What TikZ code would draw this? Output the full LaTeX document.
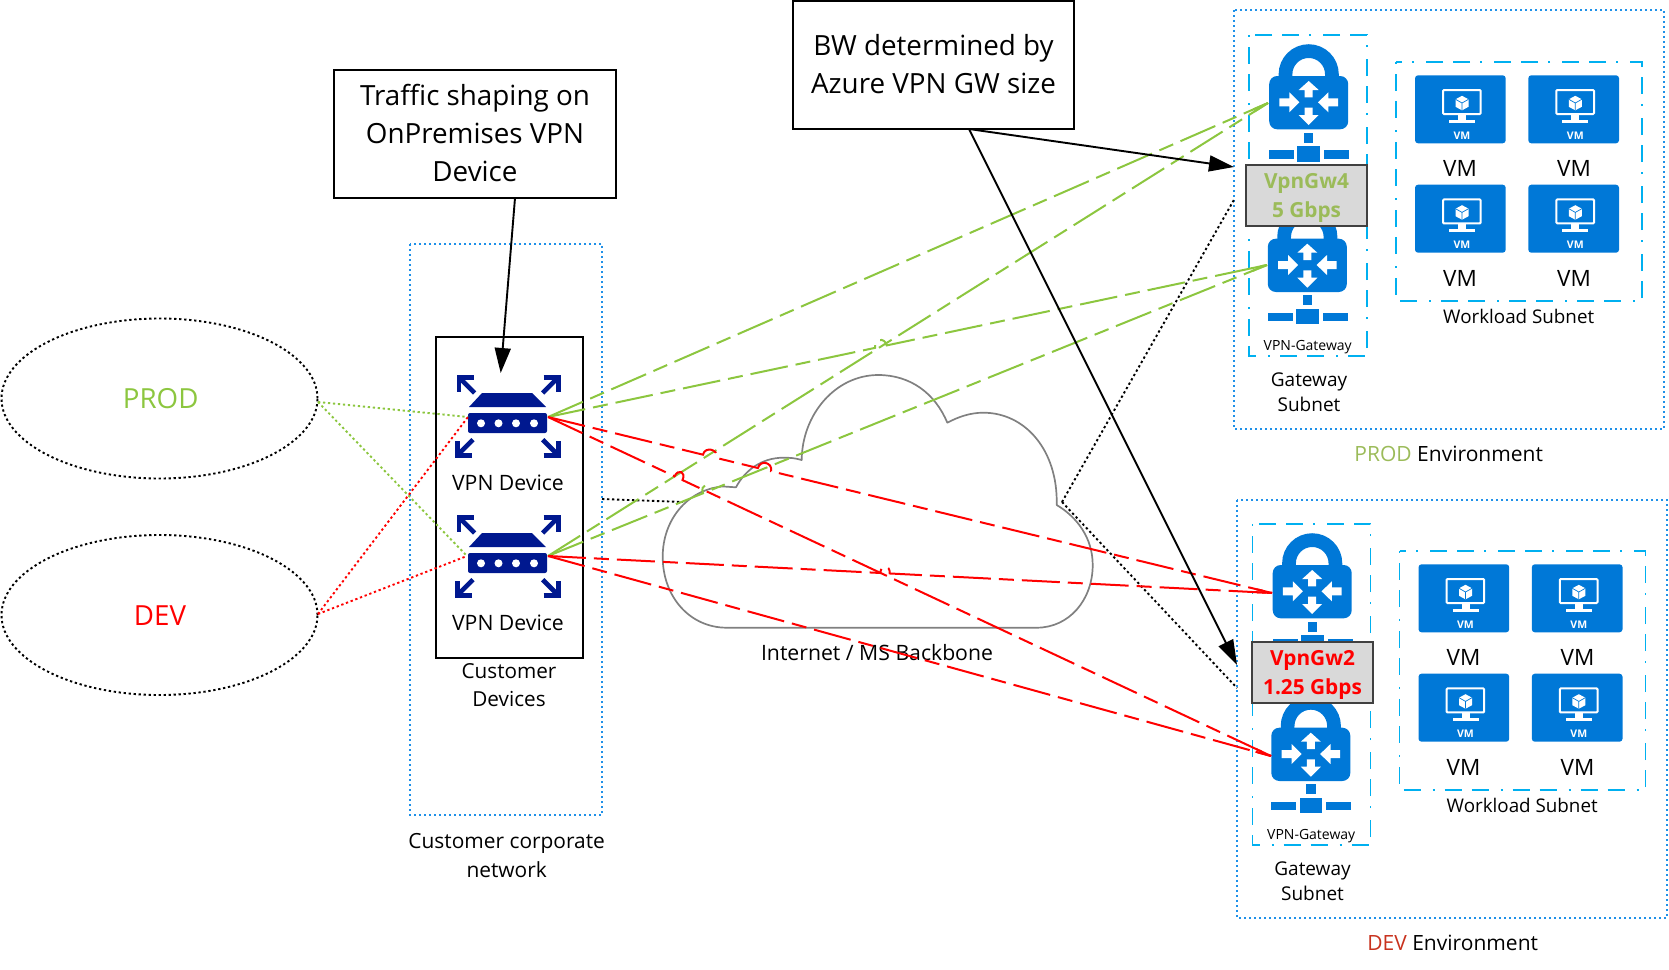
\documentclass[tikz,border=0pt]{standalone}
\usepackage{fontspec}
\setmainfont{Open Sans}
\usetikzlibrary{calc,arrows.meta,shapes.geometric}
\definecolor{gbl}{HTML}{0078D7}
\definecolor{nvy}{HTML}{00188F}
\definecolor{grn}{HTML}{8CC63F}
\definecolor{olv}{HTML}{9BBB59}
\definecolor{dbl}{HTML}{1E90E8}
\definecolor{cya}{HTML}{00B0F0}
\definecolor{drd}{HTML}{C8321E}
\tikzset{
  fs/.style={font=\fontsize{#1}{#1}\selectfont,inner sep=0pt},
  callout/.style={draw=black,line width=1.6pt,fill=white,inner sep=0pt,align=center,font=\fontsize{27.8}{38.2}\selectfont},
  lbl/.style={inner sep=0pt,align=center,font=\fontsize{21.2}{25}\selectfont},
  envbox/.style={draw=dbl,line width=1.8pt,dash pattern=on 2pt off 3pt},
  subbox/.style={draw=cya,line width=1.8pt,dash pattern=on 2pt off 10pt on 17pt off 10pt on 17pt off 12pt},
  vpnlink/.style={line width=2pt,dash pattern=on 38pt off 8pt on 15pt off 8pt},
  dotlink/.style={line width=1.9pt,dash pattern=on 2.3pt off 2.7pt},
  bigarrow/.style={line width=1.9pt,-{Triangle[length=25pt,width=16pt]}},
  sizebox/.style={draw=black!75,line width=1.4pt,fill=black!15,inner sep=0pt,align=center,font=\bfseries\fontsize{20.8}{29.5}\selectfont},
}
\newcommand{\hop}[4]{ -- ($(#1)!#3!(#2)$) .. controls ($(#1)!#3!(#2)!9pt!90:(#2)$) and ($(#1)!#4!(#2)!9pt!90:(#2)$) .. ($(#1)!#4!(#2)$) }
% lock icon around centre
\newcommand{\lockicon}[2]{%
\begin{scope}[shift={(#1,#2)}]
  \draw[gbl,line width=13.7pt] (-23.2,-20) -- (-23.2,-28) .. controls (-23.2,-40.8) and (-12.8,-51.2) .. (0,-51.2) .. controls (12.8,-51.2) and (23.2,-40.8) .. (23.2,-28) -- (23.2,-20);
  \fill[gbl,rounded corners=8pt] (-39.5,-26.3) rectangle (39.5,27);
  \fill[white] (0,-21.3) -- (10,-12.3) -- (4,-12.3) -- (4,-5) -- (-4,-5) -- (-4,-12.3) -- (-10,-12.3) -- cycle;
  \fill[white] (0,22.7) -- (10,12.7) -- (4,12.7) -- (4,5.3) -- (-4,5.3) -- (-4,12.7) -- (-10,12.7) -- cycle;
  \fill[white] (-9.3,0) -- (-19.3,-10) -- (-19.3,-4) -- (-29.3,-4) -- (-29.3,4) -- (-19.3,4) -- (-19.3,10) -- cycle;
  \fill[white] (9.3,0) -- (19.7,-10) -- (19.7,-4) -- (29.3,-4) -- (29.3,4) -- (19.7,4) -- (19.7,10) -- cycle;
  \fill[gbl] (-4.7,30.3) rectangle (4.7,40.3);
  \fill[gbl] (-11.3,43.7) rectangle (11.3,59.3);
  \fill[gbl] (-39.7,47.7) rectangle (-14.7,56.3);
  \fill[gbl] (15.3,47.7) rectangle (40.3,56.3);
\end{scope}}
% VM tile from top-left corner
\newcommand{\vmtile}[3]{%
\begin{scope}[shift={(#1,#2)}]
  \fill[gbl,rounded corners=3pt] (0,0) rectangle (90.7,68);
  \draw[white,line width=2pt,rounded corners=1pt] (28,14.7) rectangle (65.7,38.7);
  \fill[white] (43,39.7) rectangle (51,45);
  \fill[white] (34,44.7) rectangle (60,47.3);
  \fill[white] (47,20.5) -- (53.5,24) -- (53.5,31.5) -- (47,35) -- (40.5,31.5) -- (40.5,24) -- cycle;
  \draw[gbl,line width=.7pt] (40.5,24) -- (47,27.7) -- (53.5,24) (47,27.7) -- (47,35);
  \node[fs=10.5,text=white] (#3) at (47,60.2) {\bfseries VM};
\end{scope}}
% one environment, offset
\newcommand{\envicons}[3]{%
\begin{scope}[shift={(#1,#2)}]
  \draw[subbox] (1249,35) rectangle (1367,356);
  \draw[subbox] (1396,62) rectangle (1642,301);
  \lockicon{1308.7}{102.3}
  \lockicon{1307.3}{265}
  \vmtile{1415}{75.3}{#3a}
  \vmtile{1528.3}{75.3}{#3b}
  \vmtile{1415}{184.7}{#3c}
  \vmtile{1528.3}{184.7}{#3d}
  \node[fs=22.5] (#3vma) at (1460,168) {VM};
  \node[fs=22.5] (#3vmb) at (1574,168) {VM};
  \node[fs=22.5] (#3vmc) at (1460,278) {VM};
  \node[fs=22.5] (#3vmd) at (1574,278) {VM};
  \node[fs=14] (#3gwn) at (1307.7,346.7) {VPN-Gateway};
  \node[lbl,font=\fontsize{19}{25}\selectfont] (#3gws) at (1309,392) {Gateway\\Subnet};
  \node[fs=18.8] (#3wls) at (1518.7,316.7) {Workload Subnet};
\end{scope}}
% device icon
\newcommand{\cornerarrow}[4]{%
\begin{scope}[shift={(#1,#2)},xscale=#3,yscale=#4]
  \draw[nvy,line width=4.6pt,miter limit=10] (17,2.3) -- (2.3,2.3) -- (2.3,17);
  \draw[nvy,line width=4.6pt] (3,3) -- (18,18);
\end{scope}}
\newcommand{\deviceicon}[1]{%
\begin{scope}[shift={(0,#1)}]
  \fill[nvy] (482,393) -- (532,393) -- (546,407) -- (469,407) -- cycle;
  \fill[nvy,rounded corners=2pt] (468,413) rectangle (547,433);
  \foreach \px in {481,498.5,516,534} \fill[white] (\px,423.3) circle (4);
  \cornerarrow{456.7}{375}{1}{1}
  \cornerarrow{560.7}{375}{-1}{1}
  \cornerarrow{455}{457.7}{1}{-1}
  \cornerarrow{560.7}{457.7}{-1}{-1}
\end{scope}}
\begin{document}
\begin{tikzpicture}[x=1pt,y=-1pt]
\useasboundingbox (0,0) rectangle (1669,969);
% anchors
\coordinate (d1l) at (468,417);
\coordinate (d1r) at (548,417);
\coordinate (d2l) at (467,556);
\coordinate (d2r) at (548,556);
\coordinate (g1) at (1268,103);
\coordinate (g2) at (1267,265);
\coordinate (g3) at (1272,593);
\coordinate (g4) at (1271,756);
\coordinate (prodp) at (318,402);
\coordinate (devp) at (318,614);
\coordinate (netr) at (602,499);
\coordinate (cldl) at (683,502);
\coordinate (cldr) at (1062,502);
\coordinate (envp) at (1235,198);
\coordinate (envd) at (1237,688);
\coordinate (trout) at (515,198);
\coordinate (devin) at (500.7,373);
\coordinate (bwout) at (969,129);
\coordinate (gwin1) at (1234,167);
\coordinate (gwin2) at (1237,665);
% cloud
\draw[black!50,line width=1.7pt,line join=round] (726.7,627.7) -- (1036.7,627.7)
  .. controls (1069,627.7) and (1092.7,600) .. (1092.7,565)
  .. controls (1092.7,538) and (1077,517) .. (1056.7,505)
  .. controls (1058,450) and (1025,412.7) .. (983.3,412.7)
  .. controls (970,412.7) and (958,417) .. (947.3,422.7)
  .. controls (935,393) and (910,375) .. (878.3,375)
  .. controls (835,375) and (802,415) .. (801.7,460)
  .. controls (795,458) and (790,457.7) .. (783.3,457.7)
  .. controls (762,457.7) and (745,470) .. (736,487.3)
  .. controls (730,487) and (726,486.5) .. (722,486.5)
  .. controls (687,490) and (662.7,520) .. (662.7,556.7)
  .. controls (662.7,597) and (690,627.7) .. (726.7,627.7) -- cycle;
\node[fs=21.2] (cloudlbl) at (877,652.7) {Internet / MS Backbone};
% ellipses
\node[draw=black,dotlink,ellipse,minimum width=316pt,minimum height=160pt,inner sep=0pt] (prod) at (159.5,398.5) {};
\node[draw=black,dotlink,ellipse,minimum width=316pt,minimum height=160pt,inner sep=0pt] (dev) at (159.5,615) {};
\node[fs=27.7,text=grn] (prodt) at (160.7,399) {PROD};
\node[fs=27.7,text=red] (devt) at (160,615.5) {DEV};
% customer boxes
\draw[envbox] (410,244) rectangle (602,815);
\draw[draw=black,line width=1.8pt] (436,337) rectangle (583,658);
\deviceicon{0}
\deviceicon{140}
\node[lbl] (dv1) at (508,483) {VPN Device};
\node[lbl] (dv2) at (508,622.5) {VPN Device};
\node[lbl,font=\fontsize{20.7}{27.7}\selectfont] (custd) at (509,685) {Customer\\Devices};
\node[lbl,font=\fontsize{20.9}{29.5}\selectfont] (corp) at (506.7,855.5) {Customer corporate\\network};
% environments
\draw[envbox] (1234,10) rectangle (1664,429);
\draw[envbox] (1237,500) rectangle (1667,918);
\envicons{0}{0}{p}
\envicons{3.5}{489}{q}
\node[fs=21] (prodenv) at (1448.7,454) {\textcolor{olv}{PROD} Environment};
\node[fs=21] (devenv) at (1452.7,942.7) {\textcolor{drd}{DEV} Environment};
% sizes
\node[sizebox,minimum width=121pt,minimum height=61pt,text=olv] (gw4) at (1306.5,195.5) {\rule{0pt}{20pt}VpnGw4\\5 Gbps};
\node[sizebox,minimum width=121pt,minimum height=61pt,text=red] (gw2) at (1312.5,672.5) {\rule{0pt}{20pt}VpnGw2\\1.25 Gbps};
% callouts
\node[callout,minimum width=282pt,minimum height=128pt] (traffic) at (475,134) {Traffic shaping on\\OnPremises VPN\\Device\rule[-2pt]{0pt}{0pt}};
\node[callout,minimum width=281pt,minimum height=128pt] (bw) at (933.5,65) {BW determined by\\Azure VPN GW size\rule[-2pt]{0pt}{0pt}};
% dotted links
\draw[black,dotlink] (netr) -- (cldl);
\draw[black,dotlink] (cldr) -- (envp);
\draw[black,dotlink] (cldr) -- (envd);
\draw[grn,dotlink] (prodp) -- (d1l);
\draw[grn,dotlink] (prodp) -- (d2l);
\draw[red,dotlink] (devp) -- (d1l);
\draw[red,dotlink] (devp) -- (d2l);
% green links
\draw[grn,vpnlink] (d1r) -- (g1);
\draw[grn,vpnlink] (d1r) \hop{d1r}{g2}{.455}{.471} -- (g2);
\draw[grn,vpnlink] (d2r) -- (g1);
\draw[grn,vpnlink] (d2r) \hop{d2r}{g2}{.2156}{.229} -- (g2);
% red links
\draw[red,vpnlink] (d1r) \hop{d1r}{g3}{.214}{.233} \hop{d1r}{g3}{.29}{.308} -- (g3);
\draw[red,vpnlink] (d1r) \hop{d1r}{g4}{.175}{.186} -- (g4);
\draw[red,vpnlink] (d2r) \hop{d2r}{g3}{.459}{.472} -- (g3);
\draw[red,vpnlink] (d2r) -- (g4);
% closing dash of each link at the gateway
\foreach \dv in {d1r,d2r} \foreach \gw in {g1,g2} \draw[grn,line width=2pt] ($(\gw)!16pt!(\dv)$) -- (\gw);
\foreach \dv in {d1r,d2r} \foreach \gw in {g3,g4} \draw[red,line width=2pt] ($(\gw)!16pt!(\dv)$) -- (\gw);
% arrows
\draw[bigarrow] (trout) -- (devin);
\draw[bigarrow] (bwout) -- (gwin1);
\draw[bigarrow] (bwout) -- (gwin2);
\end{tikzpicture}
\end{document}
